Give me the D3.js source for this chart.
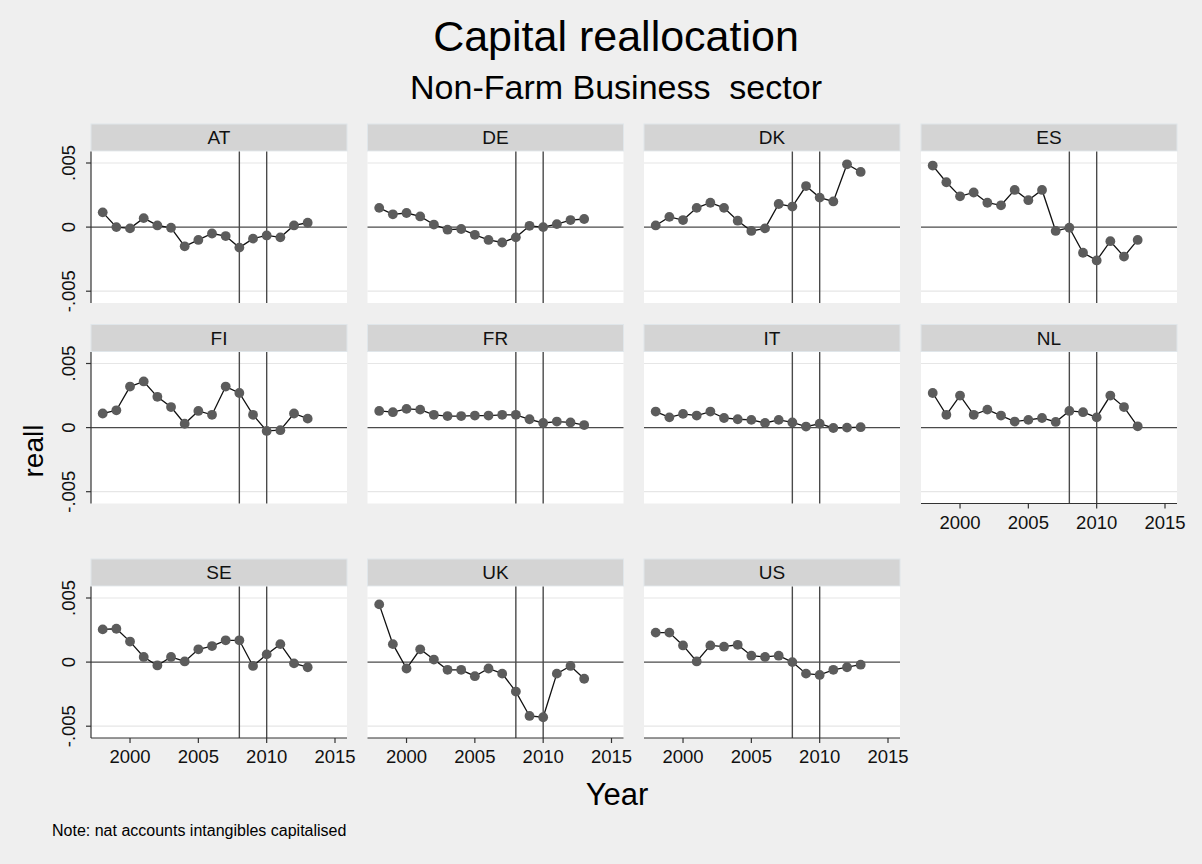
<!DOCTYPE html>
<html>
<head>
<meta charset="utf-8">
<script src="https://cdn.jsdelivr.net/npm/d3@7"></script>
<style>
  html, body { margin: 0; padding: 0; background: #efefef; }
  svg { display: block; font-family: "Liberation Sans", Arial, sans-serif; }
</style>
</head>
<body>
<svg id="chart" width="1202" height="864"></svg>
<script>
// ---------- data ----------
const years = [1998,1999,2000,2001,2002,2003,2004,2005,2006,2007,2008,2009,2010,2011,2012,2013];
const countries = ["AT","DE","DK","ES","FI","FR","IT","NL","SE","UK","US"];
const AT = [0.00115, 0.0000, -0.0001, 0.0007, 0.00013, -0.00005, -0.0015, -0.0010, -0.0005, -0.0007, -0.0016, -0.0009, -0.00065, -0.0008, 0.00013, 0.00034];
const DE = [0.0015, 0.0010, 0.0011, 0.00083, 0.0002, -0.0002, -0.00015, -0.0006, -0.0010, -0.0012, -0.0008, 0.0001, 0.0000, 0.00023, 0.00055, 0.00063];
const DK = [0.00013, 0.0008, 0.00055, 0.0015, 0.0019, 0.0015, 0.0005, -0.0003, -0.0001, 0.0018, 0.0016, 0.0032, 0.0023, 0.0020, 0.0049, 0.0043];
const ES = [0.0048, 0.0035, 0.0024, 0.0027, 0.0019, 0.0017, 0.0029, 0.0021, 0.0029, -0.0003, -0.00005, -0.0020, -0.0026, -0.0011, -0.0023, -0.0010];
const FI = [0.0011, 0.00135, 0.0032, 0.0036, 0.0024, 0.0016, 0.0003, 0.0013, 0.0010, 0.0032, 0.0027, 0.0010, -0.00026, -0.0002, 0.0011, 0.0007];
const FR = [0.0013, 0.0012, 0.00146, 0.0014, 0.0010, 0.0009, 0.0009, 0.00094, 0.00094, 0.0010, 0.0010, 0.00065, 0.00036, 0.00047, 0.0004, 0.0002];
const IT = [0.00125, 0.0008, 0.00107, 0.00094, 0.00125, 0.00075, 0.00065, 0.0006, 0.00036, 0.0006, 0.0004, 0.00008, 0.0003, -0.00003, 0.0000, 0.00003];
const NL = [0.0027, 0.0010, 0.0025, 0.0010, 0.0014, 0.00094, 0.00047, 0.0006, 0.00075, 0.00044, 0.0013, 0.0012, 0.0008, 0.0025, 0.0016, 0.0001];
const SE = [0.00255, 0.0026, 0.0016, 0.0004, -0.00026, 0.0004, 0.00005, 0.0010, 0.00125, 0.0017, 0.0017, -0.0003, 0.0006, 0.0014, -0.0001, -0.0004];
const UK = [0.0045, 0.0014, -0.0005, 0.0010, 0.0002, -0.0006, -0.0006, -0.0011, -0.0005, -0.0009, -0.0023, -0.0042, -0.0043, -0.0009, -0.0003, -0.0013];
const US = [0.0023, 0.0023, 0.0013, 0.00005, 0.0013, 0.0012, 0.00135, 0.0005, 0.0004, 0.0005, 0.0000, -0.0009, -0.0010, -0.0006, -0.0004, -0.0002];
const seriesValues = [AT, DE, DK, ES, FI, FR, IT, NL, SE, UK, US];
const xTicks = [2000, 2005, 2010, 2015];
const yTicks = [-0.005, 0, 0.005];
const yTickLabels = ["-.005", "0", ".005"];
const refYears = [2008, 2010];

// ---------- layout ----------
const svg = d3.select("#chart");
const colX = [91, 367.5, 644, 921];
const rowTop = [124, 324.5, 559];
const pw = 256, stripH = 27, ph = 151.5;
const x = d3.scaleLinear().domain([1998, 2015]).range([11.7, pw - 12]);
const y = d3.scaleLinear().domain([-0.005, 0.005]).range([ph - 11.8, 11.5]);

// titles
svg.append("text").attr("x", 616).attr("y", 51).attr("text-anchor", "middle")
  .attr("font-size", 43).attr("fill", "#000").text("Capital reallocation");
svg.append("text").attr("x", 616).attr("y", 99).attr("text-anchor", "middle")
  .attr("font-size", 34).attr("fill", "#000").style("white-space", "pre")
  .text("Non-Farm Business  sector");
svg.append("text").attr("transform", "translate(43,451) rotate(-90)").attr("text-anchor", "middle")
  .attr("font-size", 28).attr("fill", "#000").text("reall");
svg.append("text").attr("x", 617).attr("y", 805).attr("text-anchor", "middle")
  .attr("font-size", 31).attr("fill", "#000").text("Year");
svg.append("text").attr("x", 52).attr("y", 836)
  .attr("font-size", 16).attr("fill", "#000").text("Note: nat accounts intangibles capitalised");

const line = d3.line().x(d => x(d[0])).y(d => y(d[1]));

countries.forEach((c, i) => {
  const row = Math.floor(i / 4), col = i % 4;
  const g = svg.append("g").attr("transform", `translate(${colX[col]},${rowTop[row]})`);
  // strip
  g.append("rect").attr("x", 0).attr("y", 0).attr("width", pw).attr("height", stripH)
    .attr("fill", "#d4d4d4").attr("stroke", "#e0e6ea").attr("stroke-width", 1);
  g.append("text").attr("x", pw / 2).attr("y", 20).attr("text-anchor", "middle")
    .attr("font-size", 19).attr("fill", "#111").text(c);

  const p = g.append("g").attr("transform", `translate(0,${stripH + 0.5})`);
  p.append("rect").attr("width", pw).attr("height", ph).attr("fill", "#fff");
  // gridlines at +-.005
  p.selectAll(".grid").data(yTicks.filter(t => t !== 0)).enter().append("line")
    .attr("x1", 0).attr("x2", pw).attr("y1", d => y(d)).attr("y2", d => y(d))
    .attr("stroke", "#e6e6e6").attr("stroke-width", 1.2);
  // zero line
  p.append("line").attr("x1", 0).attr("x2", pw).attr("y1", y(0)).attr("y2", y(0))
    .attr("stroke", "#4a4a4a").attr("stroke-width", 1.4);
  // reference years
  p.selectAll(".vl").data(refYears).enter().append("line")
    .attr("x1", d => x(d)).attr("x2", d => x(d)).attr("y1", 0).attr("y2", ph)
    .attr("stroke", "#4a4a4a").attr("stroke-width", 1.4);

  const pts = years.map((yr, k) => [yr, seriesValues[i][k]]);
  p.append("path").datum(pts).attr("d", line).attr("fill", "none")
    .attr("stroke", "#111").attr("stroke-width", 1.3);
  p.selectAll("circle").data(pts).enter().append("circle")
    .attr("cx", d => x(d[0])).attr("cy", d => y(d[1])).attr("r", 4.9)
    .attr("fill", "#5c5c5c");

  // y axis on first column
  if (col === 0) {
    const ya = p.append("g");
    ya.append("line").attr("x1", 0).attr("x2", 0).attr("y1", 0).attr("y2", ph)
      .attr("stroke", "#333").attr("stroke-width", 1.2);
    yTicks.forEach((t, k) => {
      ya.append("line").attr("x1", -5).attr("x2", 0).attr("y1", y(t)).attr("y2", y(t))
        .attr("stroke", "#333").attr("stroke-width", 1.2);
      ya.append("text").attr("transform", `translate(-16,${y(t)}) rotate(-90)`)
        .attr("text-anchor", "middle").attr("font-size", 18.5).attr("fill", "#111")
        .text(yTickLabels[k]);
    });
  }
  // x axis where nothing is below
  if (i + 4 >= countries.length) {
    const xa = p.append("g").attr("transform", `translate(0,${ph})`);
    xa.append("line").attr("x1", 0).attr("x2", pw).attr("y1", 0).attr("y2", 0)
      .attr("stroke", "#333").attr("stroke-width", 1.2);
    xTicks.forEach(t => {
      xa.append("line").attr("x1", x(t)).attr("x2", x(t)).attr("y1", 0).attr("y2", 5)
        .attr("stroke", "#333").attr("stroke-width", 1.2);
      xa.append("text").attr("x", x(t)).attr("y", 25).attr("text-anchor", "middle")
        .attr("font-size", 18.5).attr("fill", "#111").text(t);
    });
  }
});
</script>
</body>
</html>
